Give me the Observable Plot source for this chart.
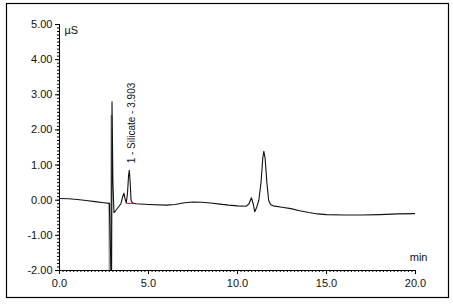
<!DOCTYPE html>
<html>
<head>
<meta charset="utf-8">
<script src="https://cdn.jsdelivr.net/npm/d3@7"></script>
<script src="https://cdn.jsdelivr.net/npm/@observablehq/plot@0.6"></script>
<style>
  html, body { margin: 0; padding: 0; background: #fff; }
  #chart { width: 453px; height: 304px; }
</style>
</head>
<body>
<div id="chart"></div>
<script>
// Chromatogram trace (time in min, signal in µS)
const time = [0.0, 0.5, 1.0, 1.5, 2.0, 2.5, 2.80, 2.92, 2.95, 3.0, 3.06, 3.15, 3.3, 3.45, 3.55, 3.62, 3.68, 3.75, 3.82, 3.88, 3.92, 3.96, 4.02, 4.1, 4.3, 5.0, 6.0, 6.5, 7.0, 7.5, 8.0, 8.5, 9.0, 9.5, 10.0, 10.5, 10.65, 10.78, 10.88, 10.97, 11.08, 11.2, 11.32, 11.42, 11.48, 11.55, 11.65, 11.75, 11.85, 12.0, 12.5, 13.0, 13.5, 14.0, 14.5, 15.0, 16.0, 17.0, 18.0, 19.0, 20.0];
const signal = [0.05, 0.04, 0.02, -0.01, -0.04, -0.07, -0.09, -2.6, 2.8, 0.5, -0.35, -0.3, -0.2, -0.1, 0.1, 0.2, 0.05, -0.08, 0.2, 0.7, 0.85, 0.6, 0.0, -0.08, -0.1, -0.12, -0.14, -0.12, -0.07, -0.05, -0.06, -0.08, -0.11, -0.14, -0.16, -0.17, -0.1, 0.07, -0.1, -0.33, -0.2, 0.0, 0.5, 1.2, 1.39, 1.2, 0.5, 0.0, -0.12, -0.16, -0.2, -0.24, -0.3, -0.35, -0.39, -0.41, -0.42, -0.42, -0.41, -0.39, -0.38];
// gray overlay of the injection dip
const dipTime = [2.80, 2.82, 2.90, 2.92];
const dipSignal = [-0.09, -2.6, -2.6, 2.4];
// integration baseline of peak 1
const baseTime = [3.78, 4.16];
const baseSignal = [-0.09, -0.09];
// peak label
const peakLabels = ["1 - Silicate - 3.903"];
const peakTimes = [3.903];
const peakValues = [0.85];
// ticks
const yTicks = [-2, -1, 0, 1, 2, 3, 4, 5];
const xTicks = [0, 5, 10, 15, 20];
const yUnit = "µS";
const xUnit = "min";

const trace = time.map((t, i) => ({t, v: signal[i]}));
const dip = dipTime.map((t, i) => ({t, v: dipSignal[i]}));
const base = baseTime.map((t, i) => ({t, v: baseSignal[i]}));
const labels = peakLabels.map((s, i) => ({s, t: peakTimes[i], v: peakValues[i]}));
const yMinor = d3.range(-20, 51).map(d => d / 10);
const xMinor = d3.range(0, 101).map(d => d / 5);

const plot = Plot.plot({
  width: 453,
  height: 304,
  marginLeft: 59,
  marginRight: 38,
  marginTop: 24,
  marginBottom: 34,
  style: {fontFamily: "'Liberation Sans', Arial, sans-serif", fontSize: "11px", color: "#111", background: "#fff"},
  x: {domain: [0, 20]},
  y: {domain: [-2, 5]},
  marks: [
    Plot.axisY(yMinor, {tickSize: 2, text: null, label: null, stroke: "#000"}),
    Plot.axisY(yTicks, {tickSize: 4, tickPadding: 3, tickFormat: d => d.toFixed(2), label: null, stroke: "#000", fontSize: 11}),
    Plot.axisX(xMinor, {tickSize: 2, text: null, label: null, stroke: "#000"}),
    Plot.axisX(xTicks, {tickSize: 4, tickPadding: 5, tickFormat: d => d.toFixed(1), label: null, stroke: "#000", fontSize: 11}),
    Plot.ruleX([0], {stroke: "#000"}),
    Plot.ruleY([-2], {stroke: "#000"}),
    Plot.line(dip, {x: "t", y: "v", stroke: "#999", strokeWidth: 2, clip: true}),
    Plot.line(trace, {x: "t", y: "v", stroke: "#111", strokeWidth: 1.1, clip: true}),
    Plot.line(base, {x: "t", y: "v", stroke: "#d01010", strokeWidth: 1}),
    Plot.text(labels, {x: "t", y: "v", text: "s", rotate: -90, textAnchor: "start", dx: 3, dy: -7, fontSize: 10, fill: "#111"}),
    Plot.text([yUnit], {frameAnchor: "top-left", dx: 5, dy: 2, textAnchor: "start", fontSize: 11, fill: "#111"}),
    Plot.text([xUnit], {frameAnchor: "bottom-right", dx: 12, dy: -10, textAnchor: "end", fontSize: 11, fill: "#111"})
  ]
});

d3.select(plot).append("rect")
  .attr("x", 6.5).attr("y", 3.5).attr("width", 442).attr("height", 294)
  .attr("fill", "none").attr("stroke", "#000").attr("stroke-width", 1.2);

document.getElementById("chart").appendChild(plot);
</script>
</body>
</html>
